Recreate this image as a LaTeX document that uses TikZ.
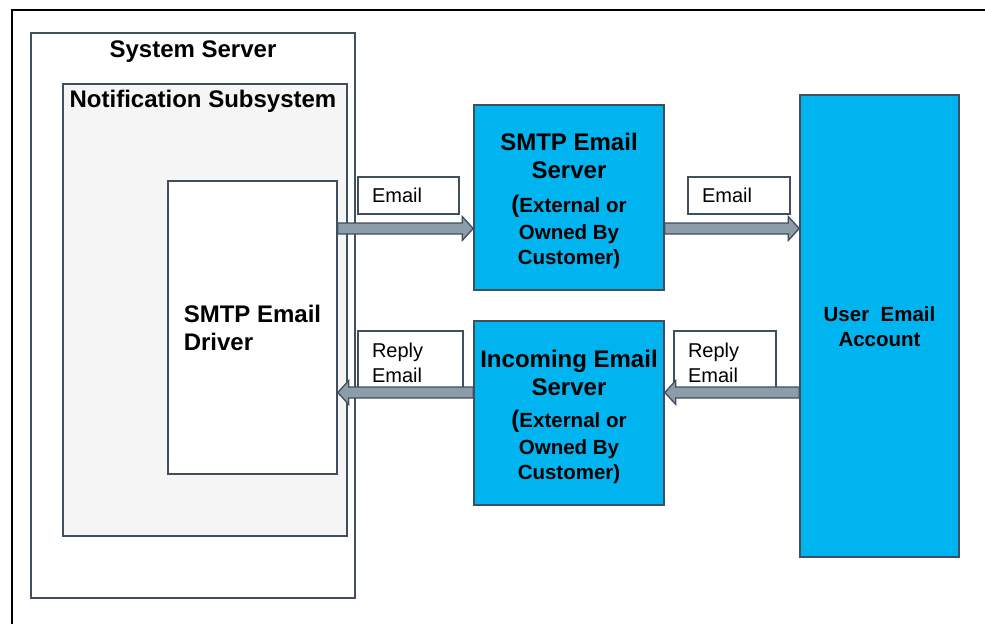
\documentclass[tikz,border=0pt]{standalone}
\usepackage{fontspec}
\setmainfont{Liberation Sans}
\usetikzlibrary{calc}
\definecolor{cyanfill}{HTML}{00B4F0}
\definecolor{boxline}{HTML}{3F4F5F}
\definecolor{arrowfill}{HTML}{8D9CA9}
\definecolor{subfill}{HTML}{F5F5F5}
\newcommand\fatarrow[2]{\draw[fatarrow] let \p1=(#1), \p2=(#2), \n1={sign(\x2-\x1)} in
  (\x1,\y1+5.5pt) -- ({\x2-(\n1)*11pt},\y1+5.5pt) -- ({\x2-(\n1)*11pt},\y1+12pt) -- (\x2,\y1)
  -- ({\x2-(\n1)*11pt},\y1-12pt) -- ({\x2-(\n1)*11pt},\y1-5.5pt) -- (\x1,\y1-5.5pt) -- cycle;}
\begin{document}
\begin{tikzpicture}[x=1pt,y=-1pt,
  box/.style={draw=boxline, line width=1.6pt, inner sep=0pt},
  bluebox/.style={box, fill=cyanfill, align=center, font=\bfseries\fontsize{24}{28}\selectfont},
  title/.style={font=\bfseries\fontsize{24}{28}\selectfont, anchor=base, inner sep=0pt},
  lbl/.style={draw=boxline, line width=1.4pt, fill=white, inner xsep=14pt, inner ysep=0pt,
    align=left, font=\fontsize{20}{25}\selectfont},
  fatarrow/.style={draw=boxline, line width=1.3pt, fill=arrowfill, line join=miter}]
\useasboundingbox (0,0) rectangle (985,624);
\draw[black, line width=1.1pt] (12,624) -- (12,10) -- (985,10);

\node[box, fill=white, minimum width=324pt, minimum height=565pt] (sys) at (193,315.5) {};
\node[title] (systitle) at (193,57) {System Server};
\node[box, fill=subfill, minimum width=284pt, minimum height=452pt] (notif) at (205,310) {};
\node[title] (notiftitle) at (203,107.5) {Notification Subsystem};
\node[box, fill=white, minimum width=169pt, minimum height=293pt, align=left,
  font=\bfseries\fontsize{24}{28}\selectfont] (driver) at (252.5,327.5) {SMTP Email\\Driver};

\node[bluebox, minimum width=190pt, minimum height=185pt] (smtp) at (569,197.5)
  {\rule{0pt}{25pt}SMTP Email\\Server\\[6pt]
   {\fontsize{20.5}{26}\selectfont{\fontsize{24}{28}\selectfont(}External or}\\[-1pt]
   {\fontsize{20.5}{26}\selectfont Owned By}\\[-3pt]
   {\fontsize{20.5}{26}\selectfont Customer)}};
\node[bluebox, minimum width=190pt, minimum height=184pt] (incoming) at (569,413)
  {\rule{0pt}{25pt}Incoming Email\\Server\\[4pt]
   {\fontsize{20.5}{26}\selectfont{\fontsize{24}{28}\selectfont(}External or}\\[-1pt]
   {\fontsize{20.5}{26}\selectfont Owned By}\\[-3pt]
   {\fontsize{20.5}{26}\selectfont Customer)}};
\node[bluebox, minimum width=159pt, minimum height=462pt,
  font=\bfseries\fontsize{20.5}{25}\selectfont] (user) at (879.5,326) {\rule{0pt}{17pt}User~~Email\\Account};

\node[lbl, text width=73pt, minimum height=37pt] (lblA) at (408.5,195.5) {Email};
\node[lbl, text width=74pt, minimum height=37pt] (lblB) at (739,195.5) {Email};
\node[lbl, text width=77pt, minimum height=64pt] (lblC) at (410.5,363) {Reply\\Email};
\node[lbl, text width=74pt, minimum height=64pt] (lblD) at (725,363) {Reply\\Email};

\coordinate (ytop) at (0,228.5);
\coordinate (ybot) at (0,392.5);
\fatarrow{driver.east |- ytop}{smtp.west |- ytop}
\fatarrow{smtp.east |- ytop}{user.west |- ytop}
\fatarrow{incoming.west |- ybot}{driver.east |- ybot}
\fatarrow{user.west |- ybot}{incoming.east |- ybot}
\end{tikzpicture}
\end{document}
